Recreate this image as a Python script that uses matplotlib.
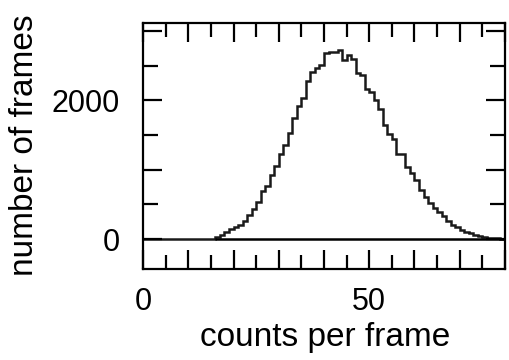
import numpy as np
import matplotlib
matplotlib.use("Agg")
from matplotlib import pyplot as plt
from matplotlib.ticker import MultipleLocator, FixedFormatter, FixedLocator

# histogram: number of frames for each count value (bin width 1, 0..80)
bin_edges = np.arange(0, 81)
counts = [0] * 16 + [
    25, 60, 100, 140, 170, 205, 265, 350, 430, 530,
    690, 760, 920, 1050, 1230, 1360, 1530, 1750, 1910, 2030,
    2280, 2410, 2470, 2510, 2680, 2700, 2690, 2730, 2580, 2650,
    2590, 2390, 2360, 2160, 2120, 2000, 1870, 1640, 1520, 1440,
    1230, 1220, 1040, 950, 850, 710, 600, 520, 440, 390,
    330, 265, 200, 170, 130, 105, 80, 60, 45, 35,
    20, 10, 8, 5,
]
x_labels = {0: "0", 50: "50"}
y_labels = {0: "0", 2000: "2000"}

plt.rcParams['font.family'] = ['Liberation Sans Narrow', 'Liberation Sans', 'DejaVu Sans']


def main():
    fig = plt.figure(figsize=(5.09, 3.6), dpi=100)
    ax = fig.add_axes([0.281, 0.2528, 0.711, 0.684])

    ax.stairs(counts, bin_edges, color="#1a1a1a", lw=1.8)
    first = bin_edges[np.nonzero(counts)[0][0]]
    ax.hlines(0, first, bin_edges[-1], color="black", lw=1.8)

    ax.set_xlim(0, 80)
    ax.set_ylim(-432, 3117)

    xt = np.arange(0, 81, 10)
    ax.xaxis.set_major_locator(FixedLocator(xt))
    ax.xaxis.set_major_formatter(FixedFormatter([x_labels.get(v, "") for v in xt]))
    ax.xaxis.set_minor_locator(MultipleLocator(5))
    yt = np.arange(0, 3001, 1000)
    ax.yaxis.set_major_locator(FixedLocator(yt))
    ax.yaxis.set_major_formatter(FixedFormatter([y_labels.get(v, "") for v in yt]))
    ax.yaxis.set_minor_locator(MultipleLocator(500))

    ax.tick_params(which="both", direction="in", top=True, right=True,
                   width=1.6, labelsize=22, color="black")
    ax.tick_params(axis="x", which="major", length=13.5, pad=13)
    ax.tick_params(axis="x", which="minor", length=10)
    ax.tick_params(axis="y", which="major", length=14, pad=17)
    ax.tick_params(axis="y", which="minor", length=10.5)
    for s in ax.spines.values():
        s.set_linewidth(1.6)

    ax.set_xlabel("counts per frame", fontsize=24)
    ax.set_ylabel("number of frames", fontsize=24)
    ax.xaxis.set_label_coords(0.503, -0.215)
    ax.yaxis.set_label_coords(-0.285, 0.503)

    fig.savefig("out.png", dpi=100)


if __name__ == '__main__':
    main()
